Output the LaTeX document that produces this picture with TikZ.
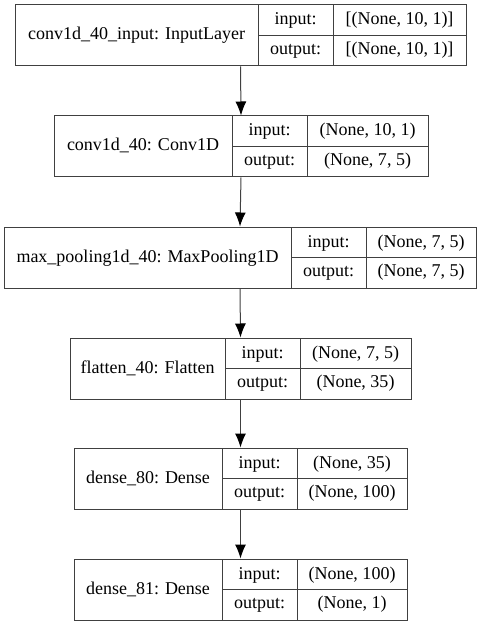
\documentclass[tikz,border=0pt]{standalone}
\usepackage{fontspec}
\setmainfont{Liberation Serif}
\usepackage{tikz}
\usetikzlibrary{arrows.meta}

\tikzset{
  rec/.style={draw=black!75, line width=1pt, minimum height=61pt, inner sep=0pt},
  txt/.style={font=\fontsize{18}{20}\selectfont, inner sep=0pt, anchor=base},
  flow/.style={draw=black!75, line width=1pt, -{Latex[length=14pt,width=11pt,color=black]}}
}

\begin{document}
\begin{tikzpicture}[x=1pt,y=-1pt]
\useasboundingbox (0,0) rectangle (480,628);
\foreach \n/\a/\b/\c/\d/\t/\lname/\lin/\lout in {
  1/15/258/333/466/5/{conv1d\_40\_input: InputLayer}/{[(None, 10, 1)]}/{[(None, 10, 1)]},
  2/54/232/307/428/116/{conv1d\_40: Conv1D}/{(None, 10, 1)}/{(None, 7, 5)},
  3/4/291/366/476/227/{max\_pooling1d\_40: MaxPooling1D}/{(None, 7, 5)}/{(None, 7, 5)},
  4/70/225/300/411/338/{flatten\_40: Flatten}/{(None, 7, 5)}/{(None, 35)},
  5/74/222/297/407/448/{dense\_80: Dense}/{(None, 35)}/{(None, 100)},
  6/74/222/297/407/559/{dense\_81: Dense}/{(None, 100)}/{(None, 1)}}
{
  \node[rec, minimum width=(\d-\a)*1pt] (rec\n) at ({(\a+\d)/2},{\t+30.5}) {};
  \draw[black!75, line width=1pt] (\b,\t) -- (\b,{\t+61});
  \draw[black!75, line width=1pt] (\c,\t) -- (\c,{\t+61});
  \draw[black!75, line width=1pt] (\b,{\t+30.5}) -- (\d,{\t+30.5});
  \node[txt] (name\n) at ({(\a+\b)/2},{\t+35}) {\lname};
  \node[txt] (in\n) at ({(\b+\c)/2},{\t+20}) {input:};
  \node[txt] (out\n) at ({(\b+\c)/2},{\t+49.5}) {output:};
  \node[txt] (inval\n) at ({(\c+\d)/2},{\t+20}) {\lin};
  \node[txt] (outval\n) at ({(\c+\d)/2},{\t+49.5}) {\lout};
}
\foreach \i/\j in {1/2,2/3,3/4,4/5,5/6}
  \draw[flow] (rec\i.south) -- (rec\j.north);
\end{tikzpicture}
\end{document}
